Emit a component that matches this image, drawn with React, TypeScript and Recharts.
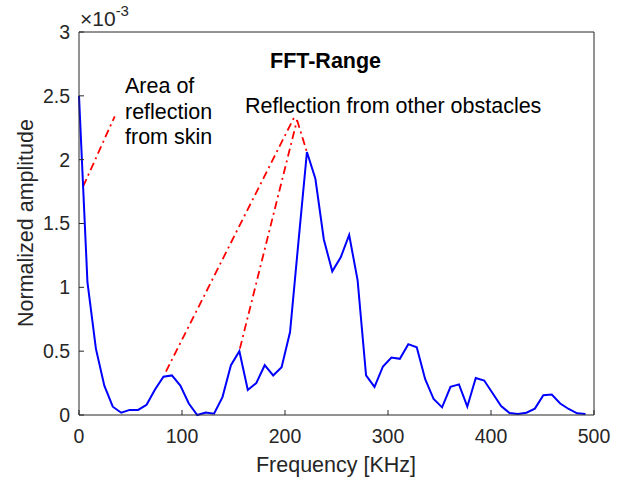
import { ComposedChart, Line, XAxis, YAxis, ReferenceLine } from "recharts";

// ─── Data ─────────────────────────────────────────────────────────────────────

// FFT bin frequencies (KHz)
const freqKHz = [
  0, 8.2, 16.4, 24.6, 32.8, 41.0, 49.2, 57.4, 65.6, 73.8, 82.0, 90.2, 98.4,
  106.6, 114.8, 123.0, 131.1, 139.3, 147.5, 155.7, 163.9, 172.1, 180.3, 188.5,
  196.7, 204.9, 213.1, 221.3, 229.5, 237.7, 245.9, 254.1, 262.3, 270.5, 278.7,
  286.9, 295.1, 303.3, 311.5, 319.7, 327.9, 336.1, 344.3, 352.5, 360.7, 368.9,
  377.0, 385.2, 393.4, 401.6, 409.8, 418.0, 426.2, 434.4, 442.6, 450.8, 459.0,
  467.2, 475.4, 483.6, 491.8,
];

// normalized amplitude, in units of 1e-3
const amplitude = [
  2.5, 1.04, 0.52, 0.23, 0.065, 0.018, 0.04, 0.04, 0.08, 0.2, 0.3, 0.31, 0.23,
  0.09, 0.0, 0.02, 0.01, 0.14, 0.39, 0.5, 0.196, 0.25, 0.39, 0.31, 0.375, 0.65,
  1.36, 2.06, 1.85, 1.375, 1.125, 1.235, 1.41, 1.055, 0.31, 0.22, 0.38, 0.45,
  0.44, 0.555, 0.53, 0.28, 0.125, 0.06, 0.22, 0.24, 0.065, 0.29, 0.27, 0.17,
  0.07, 0.016, 0.008, 0.018, 0.05, 0.155, 0.16, 0.09, 0.047, 0.013, 0.008,
];

const xTicks = [0, 100, 200, 300, 400, 500];
const yTicks = [0, 0.5, 1, 1.5, 2, 2.5, 3];

// dash-dot pointer segments (data units)
const skinPointer = [
  { x: 4, y: 1.79 },
  { x: 34.7, y: 2.34 },
];
const obstaclePointerA = [
  { x: 84.4, y: 0.34 },
  { x: 208.8, y: 2.33 },
];
const obstaclePointerB = [
  { x: 156.2, y: 0.52 },
  { x: 211.7, y: 2.31 },
];
const obstaclePointerC = [
  { x: 211.7, y: 2.31 },
  { x: 221.3, y: 2.06 },
];

const chartData = freqKHz.map((f, i) => ({ f, amp: amplitude[i] }));

// ─── Style ────────────────────────────────────────────────────────────────────

const FONT = "'Liberation Sans', Arial, Helvetica, sans-serif";
const AXIS = "#262626";
const tickStyle = { fontSize: 19.5, fill: AXIS, fontFamily: FONT };
const dashDot = "8 4 2 4";
const NOTE_SIZE = 21.5;

export default function App() {
  return (
    <div
      style={{
        position: "absolute",
        left: 0,
        top: 0,
        width: 624,
        height: 481,
        background: "#fff",
      }}
    >
      <ComposedChart
        width={624}
        height={481}
        data={chartData}
        margin={{ top: 32, right: 30, left: 39, bottom: 36 }}
      >
        <XAxis
          dataKey="f"
          type="number"
          domain={[0, 500]}
          ticks={xTicks}
          height={30}
          tickSize={-5}
          tickMargin={19}
          tick={tickStyle}
          stroke={AXIS}
          axisLine={{ stroke: AXIS }}
          tickLine={{ stroke: AXIS }}
        />
        <XAxis
          xAxisId="top"
          orientation="top"
          type="number"
          domain={[0, 500]}
          ticks={xTicks}
          mirror
          tick={false}
          tickSize={5}
          axisLine={{ stroke: AXIS }}
          tickLine={{ stroke: AXIS }}
        />
        <YAxis
          type="number"
          domain={[0, 3]}
          ticks={yTicks}
          width={40}
          tickSize={-5}
          tickMargin={14}
          tick={tickStyle}
          axisLine={{ stroke: AXIS }}
          tickLine={{ stroke: AXIS }}
        />
        <YAxis
          yAxisId="right"
          orientation="right"
          type="number"
          domain={[0, 3]}
          ticks={yTicks}
          mirror
          tick={false}
          tickSize={5}
          axisLine={{ stroke: AXIS }}
          tickLine={{ stroke: AXIS }}
        />

        <ReferenceLine segment={skinPointer} stroke="#ff0000" strokeWidth={1.8} strokeDasharray={dashDot} />
        <ReferenceLine segment={obstaclePointerA} stroke="#ff0000" strokeWidth={1.8} strokeDasharray={dashDot} />
        <ReferenceLine segment={obstaclePointerB} stroke="#ff0000" strokeWidth={1.8} strokeDasharray={dashDot} />
        <ReferenceLine segment={obstaclePointerC} stroke="#ff0000" strokeWidth={1.8} strokeDasharray={dashDot} />

        <Line
          type="linear"
          dataKey="amp"
          stroke="#0000ff"
          strokeWidth={2}
          dot={false}
          activeDot={false}
          isAnimationActive={false}
        />
      </ComposedChart>

      {/* text overlay: exponent, title, annotations, axis labels */}
      <svg
        width={624}
        height={481}
        style={{ position: "absolute", left: 0, top: 0, pointerEvents: "none" }}
        fontFamily={FONT}
      >
        <text x={80} y={26} fontSize={21} fill={AXIS}>
          ×10
          <tspan fontSize={15} dy={-10}>-3</tspan>
        </text>

        <text x={270} y={68} fontSize={NOTE_SIZE} fontWeight="bold" fill="#000">
          FFT-Range
        </text>

        <text x={125} y={93} fontSize={NOTE_SIZE} fill="#000">Area of</text>
        <text x={125} y={119} fontSize={NOTE_SIZE} fill="#000">reflection</text>
        <text x={125} y={144} fontSize={NOTE_SIZE} fill="#000">from skin</text>

        <text x={245} y={113} fontSize={NOTE_SIZE} fill="#000">
          Reflection from other obstacles
        </text>

        <text x={336} y={472} fontSize={21.5} fill={AXIS} textAnchor="middle">
          Frequency [KHz]
        </text>
        <text
          transform="translate(33,223) rotate(-90)"
          fontSize={21.5}
          fill={AXIS}
          textAnchor="middle"
        >
          Normalized amplitude
        </text>
      </svg>
    </div>
  );
}
